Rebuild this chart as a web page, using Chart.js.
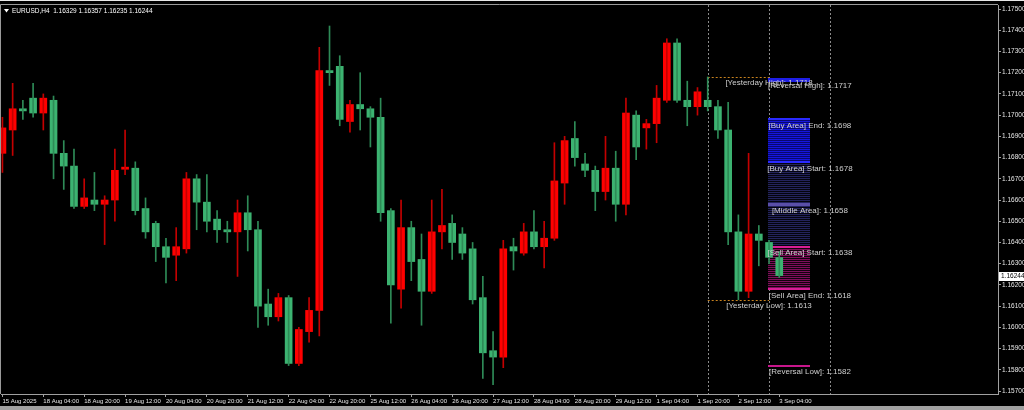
<!DOCTYPE html>
<html lang="en">
<head>
<meta charset="UTF-8">
<title>EURUSD H4</title>
<script src="https://cdn.jsdelivr.net/npm/chart.js"></script>
<style>
  body { margin: 0; padding: 0; background: #000; }
  #wrap { width: 1024px; height: 410px; }
</style>
</head>
<body>
<div id="wrap"><canvas id="chart" width="1024" height="410"></canvas></div>
<script>
  // EURUSD H4 candles, bar 0 = 15 Aug 12:00 ... bar 76 = 3 Sep 04:00
  var opens = [1.1682, 1.1693, 1.1703, 1.1708, 1.1701, 1.1707, 1.1682, 1.1676, 1.1657, 1.1660,
    1.1658, 1.1660, 1.16745, 1.1675, 1.1656, 1.1649, 1.1638, 1.1634, 1.1637, 1.1670,
    1.1659, 1.1651, 1.1646, 1.1645, 1.1654, 1.1646, 1.1611, 1.1605, 1.1614, 1.1583,
    1.1598, 1.1608, 1.1721, 1.1723, 1.1697, 1.1705, 1.1703, 1.1699, 1.1655, 1.1618,
    1.1647, 1.1632, 1.1617, 1.1645, 1.1649, 1.1644, 1.1637, 1.1614, 1.1589, 1.1586,
    1.1638, 1.1635, 1.1645, 1.1638, 1.1642, 1.1668, 1.1689, 1.1677, 1.1674, 1.1664,
    1.1675, 1.1658, 1.1700, 1.1694, 1.1696, 1.1707, 1.1734, 1.1707, 1.1704, 1.1707,
    1.1704, 1.1693, 1.1645, 1.1617, 1.1644, 1.1640, 1.16329];
  var highs = [1.1699, 1.1715, 1.1707, 1.1715, 1.1710, 1.1709, 1.1688, 1.1684, 1.1670, 1.1673,
    1.1662, 1.1684, 1.1693, 1.1678, 1.1661, 1.1650, 1.1642, 1.1647, 1.1673, 1.1672,
    1.1672, 1.1655, 1.1650, 1.1660, 1.1662, 1.1650, 1.1618, 1.1616, 1.1615, 1.1600,
    1.1614, 1.1732, 1.1742, 1.1728, 1.1707, 1.1720, 1.1704, 1.1708, 1.1656, 1.1660,
    1.1650, 1.1644, 1.1660, 1.1665, 1.1653, 1.1647, 1.1640, 1.1624, 1.1598, 1.1641,
    1.1642, 1.1649, 1.1655, 1.1650, 1.1687, 1.1690, 1.1697, 1.1682, 1.1676, 1.1690,
    1.1683, 1.1708, 1.1702, 1.1698, 1.1714, 1.1736, 1.1736, 1.1716, 1.1713, 1.1718,
    1.1707, 1.1706, 1.1653, 1.1682, 1.1648, 1.1641, 1.16357];
  var lows = [1.1673, 1.1681, 1.1698, 1.1699, 1.1693, 1.1670, 1.1665, 1.1656, 1.1656, 1.1655,
    1.1639, 1.1650, 1.1672, 1.1653, 1.1642, 1.1631, 1.1621, 1.1622, 1.1635, 1.1646,
    1.1645, 1.1640, 1.1640, 1.1624, 1.1636, 1.1600, 1.1601, 1.1603, 1.1582, 1.1582,
    1.1593, 1.1596, 1.1714, 1.1695, 1.1692, 1.1693, 1.1685, 1.1650, 1.1602, 1.1609,
    1.1622, 1.1601, 1.1616, 1.1637, 1.1632, 1.1632, 1.1611, 1.1576, 1.1573, 1.1581,
    1.1627, 1.1634, 1.1637, 1.1628, 1.1641, 1.1658, 1.1676, 1.1671, 1.1655, 1.1660,
    1.1650, 1.1653, 1.1679, 1.1684, 1.1687, 1.1706, 1.1706, 1.1695, 1.1700, 1.1702,
    1.1689, 1.1639, 1.1613, 1.1614, 1.1629, 1.1630, 1.16235];
  var closes = [1.1694, 1.1703, 1.1702, 1.1701, 1.1708, 1.1682, 1.1676, 1.1657, 1.1661, 1.1658,
    1.1660, 1.1674, 1.16755, 1.1655, 1.1645, 1.1638, 1.1633, 1.1638, 1.1670, 1.1659,
    1.1650, 1.1646, 1.1645, 1.1654, 1.1646, 1.1610, 1.1605, 1.1614, 1.1583, 1.1599,
    1.1608, 1.1721, 1.1720, 1.1698, 1.1705, 1.1703, 1.1699, 1.1654, 1.1620, 1.1647,
    1.1631, 1.1617, 1.1645, 1.1648, 1.1640, 1.1635, 1.1613, 1.1588, 1.1586, 1.1637,
    1.1636, 1.1645, 1.1638, 1.1642, 1.1669, 1.1688, 1.1680, 1.1674, 1.1664, 1.1675,
    1.1658, 1.1701, 1.1685, 1.1696, 1.1708, 1.1734, 1.1707, 1.1704, 1.1711, 1.1704,
    1.1693, 1.1645, 1.1617, 1.1644, 1.1641, 1.1633, 1.16244];

  var xTickBars = [0, 4, 8, 12, 16, 20, 24, 28, 32, 36, 40, 44, 48, 52, 56, 60, 64, 68, 72, 76];
  var xTickLabels = ['15 Aug 2025', '18 Aug 04:00', '18 Aug 20:00', '19 Aug 12:00', '20 Aug 04:00',
    '20 Aug 20:00', '21 Aug 12:00', '22 Aug 04:00', '22 Aug 20:00', '25 Aug 12:00', '26 Aug 04:00',
    '26 Aug 20:00', '27 Aug 12:00', '28 Aug 04:00', '28 Aug 20:00', '29 Aug 12:00', '1 Sep 04:00',
    '1 Sep 20:00', '2 Sep 12:00', '3 Sep 04:00'];
  var yTicks = [1.157, 1.158, 1.159, 1.160, 1.161, 1.162, 1.163, 1.164, 1.165, 1.166,
    1.167, 1.168, 1.169, 1.170, 1.171, 1.172, 1.173, 1.174, 1.175];

  var levelNames = ['[Reversal High]', '[Buy Area] End', '[Buy Area] Start', '[Middle Area]',
    '[Sell Area] Start', '[Sell Area] End', '[Reversal Low]'];
  var levelValues = [1.1717, 1.1698, 1.1678, 1.1658, 1.1638, 1.1618, 1.1582];
  var yesterdayNames = ['[Yesterday High]', '[Yesterday Low]'];
  var yesterdayValues = [1.1718, 1.1613];
  var separatorBars = [69, 75, 81];
  var zoneBars = [75, 79];
  var titleText = 'EURUSD,H4  1.16329 1.16357 1.16235 1.16244';
  var lastPrice = 1.16244;

  var UP = '#ff0000', DOWN = '#3cb371';
  var FONT = 'Liberation Sans, Arial, sans-serif';

  var bodyColors = opens.map(function (o, i) { return closes[i] > o ? UP : DOWN; });
  var wickColors = opens.map(function (o, i) { return closes[i] > o ? '#c40000' : '#2e8b57'; });

  // stripes, edge lines and texts of the levels indicator
  var levelsPlugin = {
    id: 'levels',
    beforeDraw: function (chart) {
      var c = chart.ctx;
      c.save();
      c.fillStyle = '#000';
      c.fillRect(0, 0, chart.width, chart.height);
      c.restore();
    },
    beforeDatasetsDraw: function (chart) {
      var c = chart.ctx, xs = chart.scales.x, ys = chart.scales.y, a = chart.chartArea;
      c.save();
      // day separators
      c.strokeStyle = '#8a8a8a';
      c.lineWidth = 1;
      c.setLineDash([2, 2]);
      separatorBars.forEach(function (b) {
        var x = Math.round(xs.getPixelForValue(b)) + 0.5;
        c.beginPath(); c.moveTo(x, a.top); c.lineTo(x, a.bottom); c.stroke();
      });
      // yesterday high / low
      c.strokeStyle = '#c8821e';
      yesterdayValues.forEach(function (v) {
        var y = Math.round(ys.getPixelForValue(v)) + 0.5;
        c.beginPath();
        c.moveTo(xs.getPixelForValue(separatorBars[0]), y);
        c.lineTo(xs.getPixelForValue(separatorBars[1]), y);
        c.stroke();
      });
      c.setLineDash([]);

      var x1 = Math.round(xs.getPixelForValue(zoneBars[0])) - 1;
      var x2 = Math.round(xs.getPixelForValue(zoneBars[1]));
      var zones = [[1, 2, '#08086e', '#1616dc'], [2, 3, '#04040e', '#23235c'],
                   [3, 4, '#04040e', '#23235c'], [4, 5, '#12030d', '#7e0e5a']];
      zones.forEach(function (z) {
        var yA = Math.round(ys.getPixelForValue(levelValues[z[0]]));
        var yB = Math.round(ys.getPixelForValue(levelValues[z[1]]));
        c.fillStyle = z[2];
        c.fillRect(x1, yA, x2 - x1, yB - yA);
        c.fillStyle = z[3];
        for (var y = yA; y < yB; y += 2) c.fillRect(x1, y, x2 - x1, 1);
      });
      var edges = [[0, '#1e1ee6', 4], [1, '#2a2aff', 2], [2, '#2a2aff', 2], [3, '#5a4fa8', 3],
                   [4, '#d81e96', 2], [5, '#d81e96', 2], [6, '#c8168c', 2]];
      edges.forEach(function (e) {
        var y = Math.round(ys.getPixelForValue(levelValues[e[0]]));
        c.fillStyle = e[1];
        c.fillRect(x1, y - 1, x2 - x1, e[2]);
      });
      c.restore();
    },
    afterDatasetsDraw: function (chart) {
      var c = chart.ctx, xs = chart.scales.x, ys = chart.scales.y, a = chart.chartArea;
      c.save();
      c.font = '8px ' + FONT;
      c.fillStyle = '#cfcfcf';
      c.textAlign = 'center';
      c.textBaseline = 'middle';
      yesterdayValues.forEach(function (v, i) {
        c.fillText(yesterdayNames[i] + ': ' + v.toFixed(4),
          xs.getPixelForValue(zoneBars[0]), ys.getPixelForValue(v) + 6);
      });
      levelValues.forEach(function (v, i) {
        c.fillText(levelNames[i] + ': ' + v.toFixed(4),
          xs.getPixelForValue(zoneBars[1]), ys.getPixelForValue(v) + 6.5);
      });

      // title
      c.font = '6.5px ' + FONT;
      c.fillStyle = '#ffffff';
      c.textAlign = 'left';
      c.fillText(titleText, 12, 11);
      c.beginPath(); c.moveTo(4, 9); c.lineTo(9, 9); c.lineTo(6.5, 12.5); c.closePath(); c.fill();

      // frame
      c.strokeStyle = '#9a9a9a';
      c.lineWidth = 1;
      c.beginPath();
      c.moveTo(0.5, a.bottom); c.lineTo(0.5, a.top - 0.5); c.lineTo(a.right, a.top - 0.5);
      c.stroke();
      c.fillStyle = '#e8e8e8';
      c.fillRect(0, 0, chart.width, 1);
      c.fillStyle = '#a0a0a0';
      c.fillRect(0, 406, chart.width, 4);

      // last price box
      var yp = Math.round(ys.getPixelForValue(lastPrice));
      c.fillStyle = '#ffffff';
      c.fillRect(a.right + 1, yp - 4, chart.width - a.right - 1, 9);
      c.fillStyle = '#000000';
      c.font = '6.5px ' + FONT;
      c.fillText(lastPrice.toFixed(5), a.right + 3, yp + 0.5);
      c.restore();
    }
  };

  var axisColor = '#a0a0a0';
  var ctx = document.getElementById('chart').getContext('2d');
  var chart = new Chart(ctx, {
    type: 'bar',
    data: {
      datasets: [{
        label: 'wick',
        data: opens.map(function (o, i) { return { x: i, y: [lows[i], highs[i]] }; }),
        backgroundColor: wickColors,
        barThickness: 1,
        grouped: false,
        borderWidth: 0
      }, {
        label: 'body',
        data: opens.map(function (o, i) { return { x: i, y: [o, closes[i]] }; }),
        backgroundColor: bodyColors,
        barThickness: 7,
        minBarLength: 1,
        grouped: false,
        borderWidth: 0
      }]
    },
    options: {
      responsive: false,
      animation: false,
      events: [],
      layout: { padding: { left: 1, top: 5, right: 0, bottom: 0 } },
      plugins: { legend: { display: false }, tooltip: { enabled: false } },
      scales: {
        x: {
          type: 'linear',
          offset: false,
          min: -0.14,
          max: 97.4,
          afterBuildTicks: function (s) { s.ticks = xTickBars.map(function (v) { return { value: v }; }); },
          afterFit: function (s) { s.height = 16; },
          ticks: {
            autoSkip: false,
            maxRotation: 0,
            align: 'start',
            padding: 1,
            color: '#e6e6e6',
            font: { family: FONT, size: 6 },
            callback: function (v) { return xTickLabels[xTickBars.indexOf(v)]; }
          },
          grid: { offset: false, drawOnChartArea: false, drawTicks: true, tickLength: 3, color: axisColor },
          border: { color: axisColor }
        },
        y: {
          type: 'linear',
          position: 'right',
          min: 1.15686,
          max: 1.17519,
          afterBuildTicks: function (s) { s.ticks = yTicks.map(function (v) { return { value: v }; }); },
          afterFit: function (s) { s.width = 26; },
          ticks: {
            padding: 1,
            color: '#e6e6e6',
            font: { family: FONT, size: 6.5 },
            callback: function (v) { return v.toFixed(5); }
          },
          grid: { drawOnChartArea: false, drawTicks: true, tickLength: 3, color: axisColor },
          border: { color: axisColor }
        }
      }
    },
    plugins: [levelsPlugin]
  });
</script>
</body>
</html>
